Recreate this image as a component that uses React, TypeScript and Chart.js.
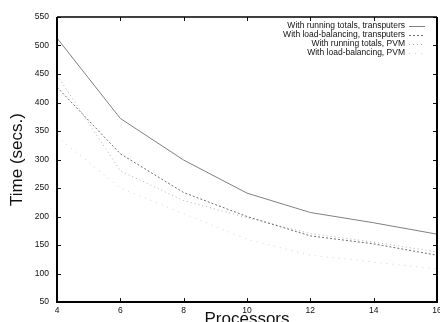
import React, { useEffect, useRef } from "react";
import { Chart, registerables } from "chart.js";

Chart.register(...registerables);

const processors = [4, 6, 8, 10, 12, 14, 16];
const runningTransputers = [513, 372, 299, 241, 207, 189, 169];
const loadBalTransputers = [427, 310, 242, 200, 166, 152, 132];
const runningPVM = [448, 280, 228, 198, 170, 155, 138];
const loadBalPVM = [340, 250, 205, 160, 132, 120, 108];

const seriesLabels = [
  "With running totals, transputers",
  "With load-balancing, transputers",
  "With running totals, PVM",
  "With load-balancing, PVM",
];

const xTicks = [4, 6, 8, 10, 12, 14, 16];
const yTicks = [50, 100, 150, 200, 250, 300, 350, 400, 450, 500, 550];

const FONT = "'Liberation Sans', Arial, Helvetica, sans-serif";

const framePlugin = {
  id: "frameTicks",
  afterDraw(chart: any) {
    const { ctx, chartArea } = chart;
    const { left, right, top, bottom } = chartArea;
    const xs = chart.scales.x;
    const ys = chart.scales.y;
    ctx.save();
    ctx.strokeStyle = "#111";
    ctx.lineWidth = 1;
    const tl = 4;
    ctx.beginPath();
    xTicks.forEach((v) => {
      const px = Math.round(xs.getPixelForValue(v)) + 0.5;
      ctx.moveTo(px, bottom);
      ctx.lineTo(px, bottom - tl);
      ctx.moveTo(px, top);
      ctx.lineTo(px, top + tl);
    });
    yTicks.forEach((v) => {
      const py = Math.round(ys.getPixelForValue(v)) + 0.5;
      ctx.moveTo(left, py);
      ctx.lineTo(left + tl, py);
      ctx.moveTo(right, py);
      ctx.lineTo(right - tl, py);
    });
    ctx.stroke();
    // frame
    ctx.strokeStyle = "#000";
    ctx.lineWidth = 2;
    ctx.beginPath();
    ctx.moveTo(left, top);
    ctx.lineTo(left, bottom);
    ctx.lineTo(right, bottom);
    ctx.lineTo(right, top);
    ctx.stroke();
    ctx.lineWidth = 1.5;
    ctx.beginPath();
    ctx.moveTo(left, top);
    ctx.lineTo(right, top);
    ctx.stroke();

    // legend
    ctx.font = `8.5px ${FONT}`;
    ctx.textAlign = "right";
    ctx.textBaseline = "middle";
    const sampleEnd = right - 12;
    const sampleStart = sampleEnd - 16;
    chart.data.datasets.forEach((ds: any, i: number) => {
      const y = top + 9 + i * 9;
      ctx.fillStyle = "#111";
      ctx.fillText(ds.label, sampleStart - 4, y);
      ctx.save();
      ctx.strokeStyle = ds.borderColor;
      ctx.lineWidth = 1;
      ctx.setLineDash(ds.borderDash || []);
      ctx.beginPath();
      ctx.moveTo(sampleStart, Math.round(y) + 0.5);
      ctx.lineTo(sampleEnd, Math.round(y) + 0.5);
      ctx.stroke();
      ctx.restore();
    });
    ctx.restore();
  },
};

export default function App() {
  const ref = useRef<HTMLCanvasElement | null>(null);

  useEffect(() => {
    const canvas = ref.current;
    if (!canvas) return;
    const mk = (x: number[], y: number[]) => x.map((v, i) => ({ x: v, y: y[i] }));
    const chart = new Chart(canvas, {
      type: "line",
      data: {
        datasets: [
          {
            label: seriesLabels[0],
            data: mk(processors, runningTransputers),
            borderColor: "#808080",
            borderWidth: 1,
            pointRadius: 0,
            tension: 0,
          },
          {
            label: seriesLabels[1],
            data: mk(processors, loadBalTransputers),
            borderColor: "#707070",
            borderWidth: 1,
            borderDash: [2, 2],
            pointRadius: 0,
            tension: 0,
          },
          {
            label: seriesLabels[2],
            data: mk(processors, runningPVM),
            borderColor: "#b0b0b0",
            borderWidth: 1,
            borderDash: [1, 3],
            pointRadius: 0,
            tension: 0,
          },
          {
            label: seriesLabels[3],
            data: mk(processors, loadBalPVM),
            borderColor: "#d0d0d0",
            borderWidth: 1,
            borderDash: [1, 5],
            pointRadius: 0,
            tension: 0,
          },
        ],
      },
      options: {
        responsive: false,
        animation: false,
        devicePixelRatio: 1,
        layout: { padding: { top: 17, right: 13, left: 0, bottom: 0 } },
        plugins: {
          legend: { display: false },
          tooltip: { enabled: false },
        },
        scales: {
          x: {
            type: "linear",
            min: 4,
            max: 16,
            afterBuildTicks: (s: any) => {
              s.ticks = xTicks.map((v) => ({ value: v }));
            },
            afterFit: (s: any) => {
              s.height = 28;
            },
            grid: { display: false, drawTicks: false },
            border: { display: false },
            ticks: {
              padding: 4,
              color: "#111",
              font: { size: 8.5, family: FONT },
              maxRotation: 0,
              autoSkip: false,
            },
            title: {
              display: true,
              text: "Processors",
              color: "#111",
              font: { size: 17, family: FONT },
              padding: { top: 2, bottom: 0 },
            },
          },
          y: {
            type: "linear",
            min: 50,
            max: 550,
            afterBuildTicks: (s: any) => {
              s.ticks = yTicks.map((v) => ({ value: v }));
            },
            afterFit: (s: any) => {
              s.width = 57;
            },
            grid: { display: false, drawTicks: false },
            border: { display: false },
            ticks: {
              padding: 8,
              color: "#111",
              font: { size: 8.5, family: FONT },
              autoSkip: false,
            },
            title: {
              display: true,
              text: "Time (secs.)",
              color: "#111",
              font: { size: 17, family: FONT },
              padding: { top: 7, bottom: 0 },
            },
          },
        },
      },
      plugins: [framePlugin],
    } as any);
    return () => chart.destroy();
  }, []);

  return (
    <div
      style={{
        position: "fixed",
        left: 0,
        top: 0,
        width: 440,
        height: 322,
        overflow: "hidden",
        background: "#fff",
      }}
    >
      <canvas ref={ref} width={450} height={330} style={{ display: "block", width: 450, height: 330 }} />
    </div>
  );
}
